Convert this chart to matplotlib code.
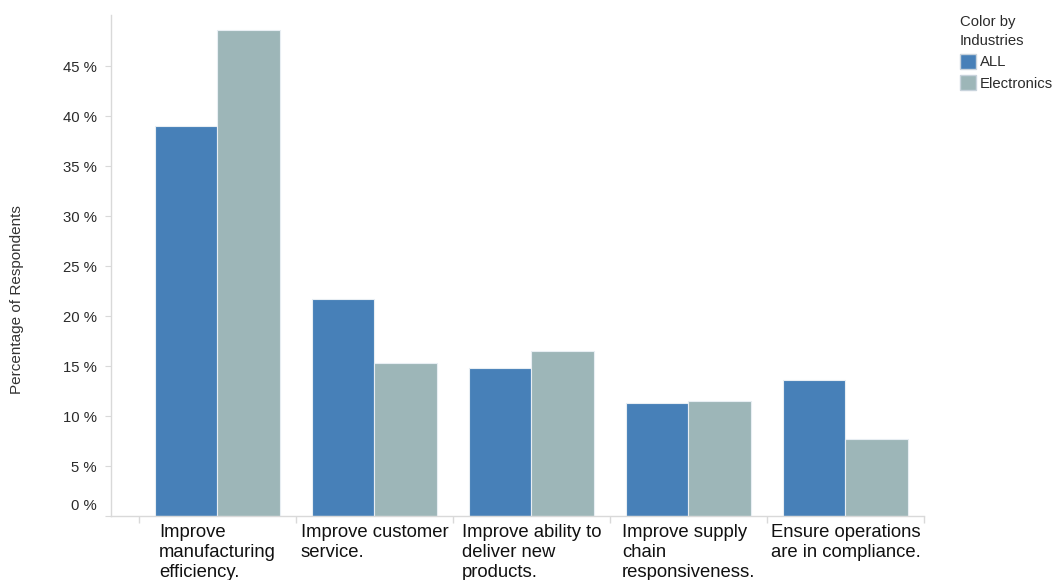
import matplotlib
matplotlib.use("Agg")
import matplotlib.pyplot as plt
import numpy as np
from matplotlib.patches import Patch
from matplotlib.transforms import ScaledTranslation

categories = ["Improve\nmanufacturing\nefficiency.",
              "Improve customer\nservice.",
              "Improve ability to\ndeliver new\nproducts.",
              "Improve supply\nchain\nresponsiveness.",
              "Ensure operations\nare in compliance."]
series_names = ["ALL", "Electronics"]
all_values = [39.0, 21.7, 14.8, 11.3, 13.6]
electronics_values = [48.6, 15.3, 16.5, 11.5, 7.7]
yticks = [0, 5, 10, 15, 20, 25, 30, 35, 40, 45]
ytick_labels = ["%d %%" % v for v in yticks]

colors = ["#4780B8", "#9DB6B8"]
plt.rcParams['font.family'] = ['Liberation Sans', 'DejaVu Sans']

fig = plt.figure(figsize=(10.55, 5.8), dpi=100)
ax = fig.add_axes([111/1055, 1-516/580, (924-111)/1055, (516-15)/580])

x = np.arange(len(categories))
w = 0.4
ax.bar(x - w/2, all_values, w, color=colors[0], edgecolor="#e8eef3", linewidth=0.8)
ax.bar(x + w/2, electronics_values, w, color=colors[1], edgecolor="#e8eef3", linewidth=0.8)

ax.set_xlim(-0.5 - 28/157, 4.5)
ax.set_ylim(0, 50.1)

for s in ["top", "right"]:
    ax.spines[s].set_visible(False)
for s in ["left", "bottom"]:
    ax.spines[s].set_color("#d9d9d9")
    ax.spines[s].set_linewidth(1.0)

ax.set_yticks(yticks)
ax.set_yticklabels(ytick_labels, fontsize=10.7, color="#2b2b2b")
ax.tick_params(axis="y", length=4, color="#d9d9d9", pad=6)
lbl0 = ax.get_yticklabels()[0]
lbl0.set_transform(lbl0.get_transform() + ScaledTranslation(0, 11/100, fig.dpi_scale_trans))

ax.set_xticks(x)
ax.set_xticklabels(categories, fontsize=13.3, color="#111111", ha="center",
                   multialignment="left", va="top", linespacing=1.23)
ax.tick_params(axis="x", length=0, pad=6)
ax.set_xticks(np.arange(-0.5, 5.0, 1.0), minor=True)
ax.tick_params(axis="x", which="minor", length=5, color="#d9d9d9", width=1.0)

fig.text(17/1055, 1-300/580, "Percentage of Respondents", rotation=90,
         ha="center", va="center", fontsize=11, color="#333333")

handles = [Patch(facecolor=colors[0], edgecolor="#c8d3dc"),
           Patch(facecolor=colors[1], edgecolor="#c8d3dc")]
leg = fig.legend(handles, series_names, title="Color by\nIndustries",
                 loc="upper left", bbox_to_anchor=(957/1055, 1-12/580),
                 frameon=False, fontsize=10.7, title_fontsize=10.7,
                 handlelength=1.1, handleheight=1.15, handletextpad=0.25,
                 labelspacing=0.4, borderaxespad=0, borderpad=0.2, alignment="left")
leg.get_title().set_color("#2b2b2b")
leg.get_title().set_linespacing(1.45)
for t in leg.get_texts():
    t.set_color("#2b2b2b")

fig.savefig("out.png", dpi=100)
